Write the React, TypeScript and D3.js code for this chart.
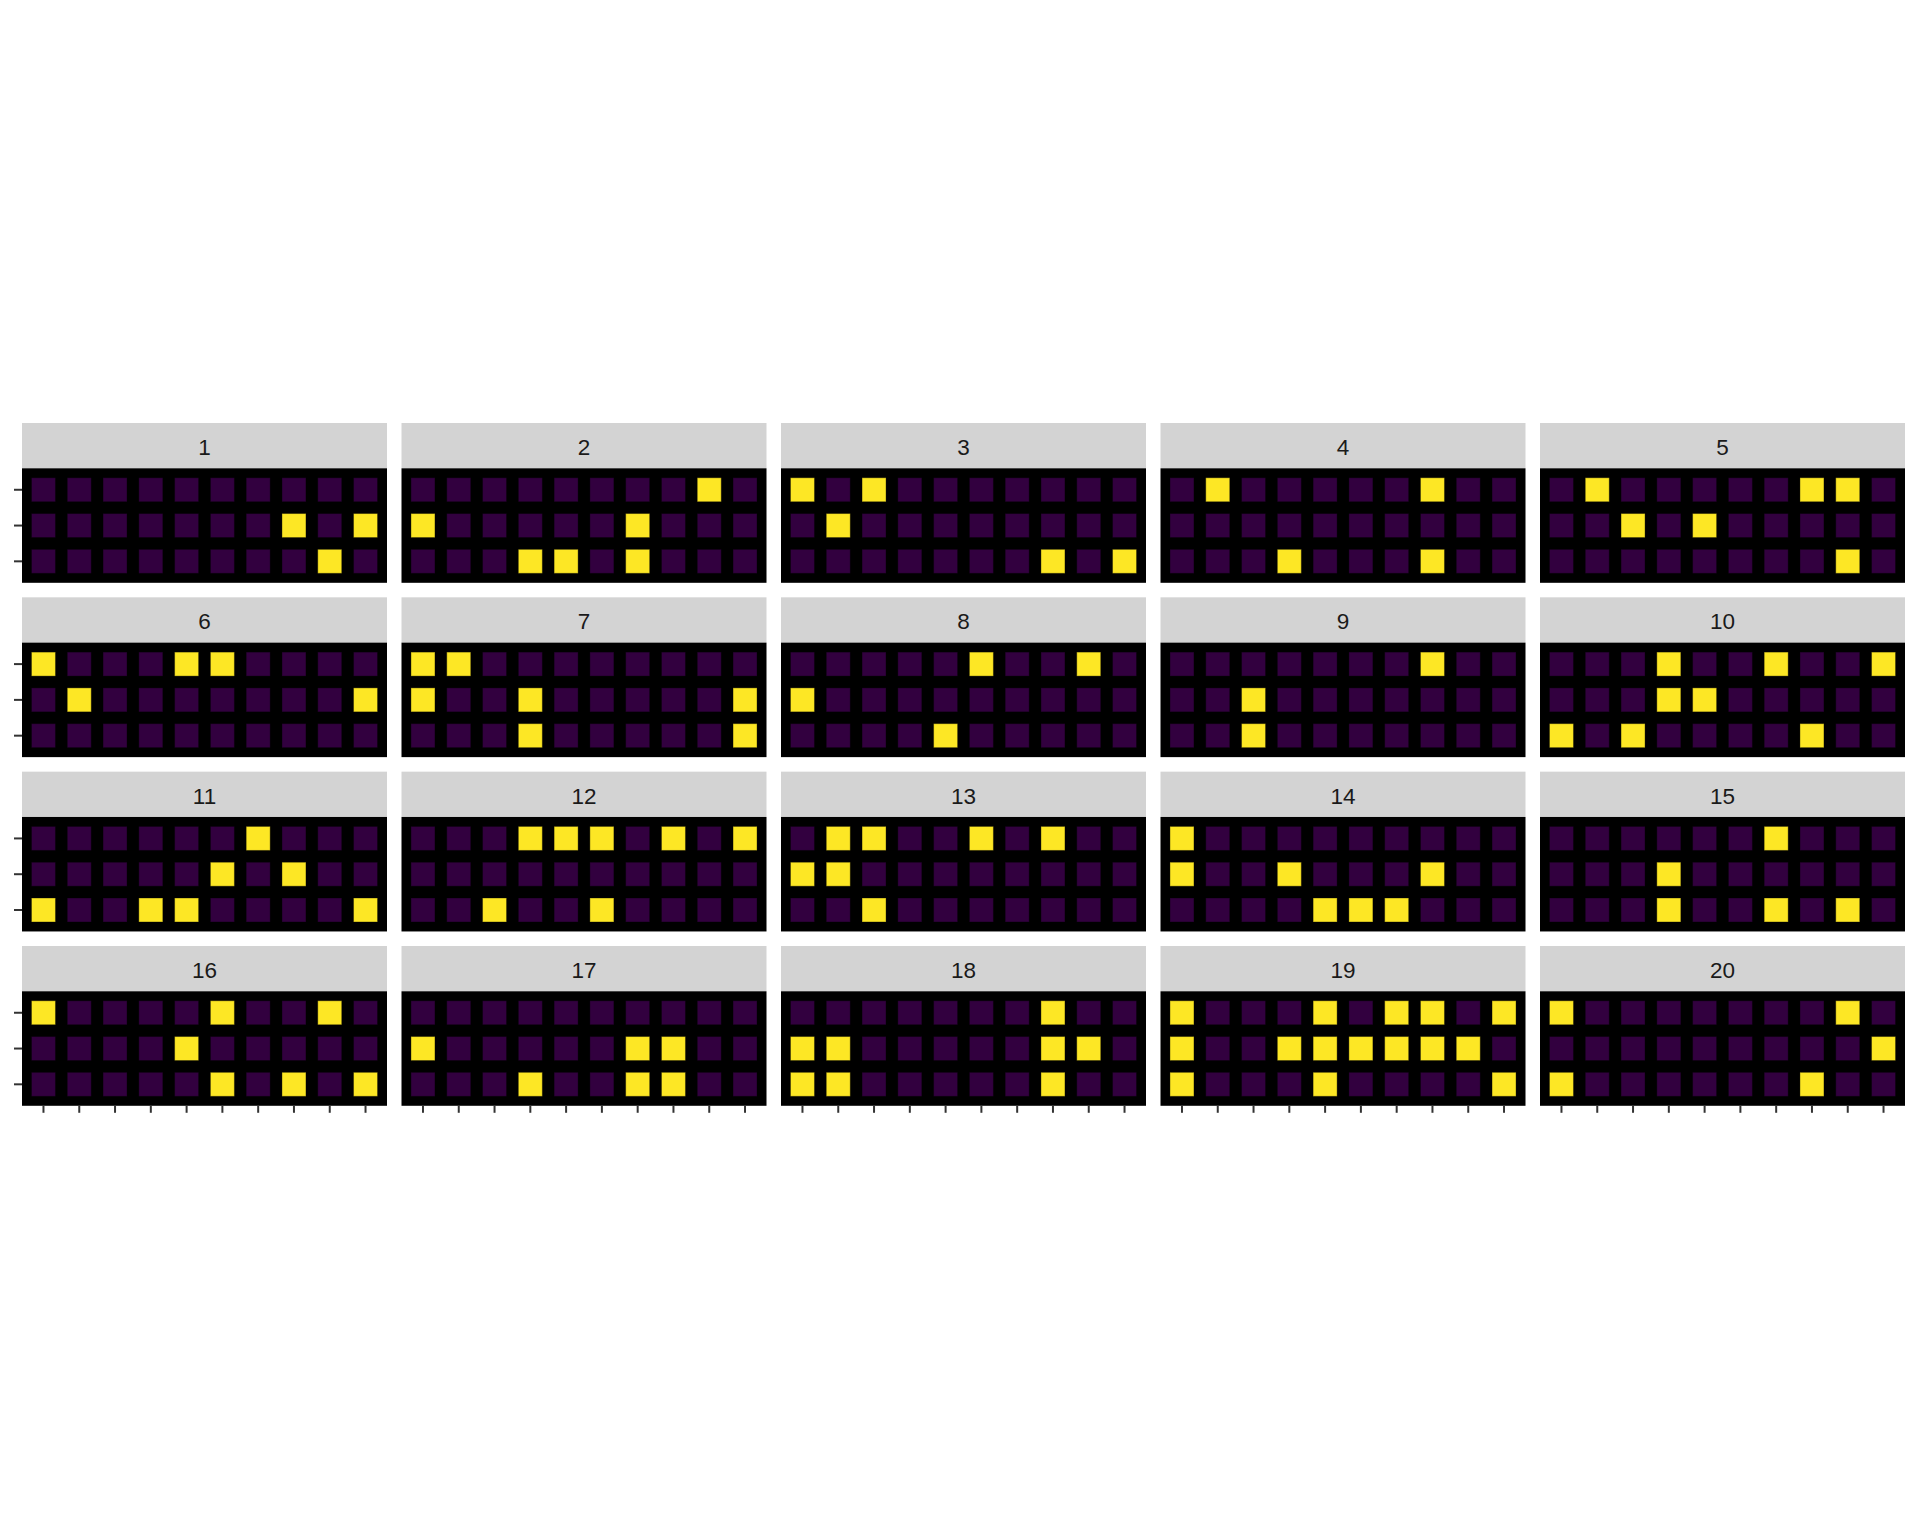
import React from 'react';
import * as d3 from 'd3';

// facet labels
const panelIds = d3.range(1, 21).map(String);
const columns = d3.range(1, 11);
const rows = [1, 2, 3];

// for each panel, which columns are "on" in row 1, 2, 3
const onCells: number[][][] = [
  [[], [8, 10], [9]],
  [[9], [1, 7], [4, 5, 7]],
  [[1, 3], [2], [8, 10]],
  [[2, 8], [], [4, 8]],
  [[2, 8, 9], [3, 5], [9]],
  [[1, 5, 6], [2, 10], []],
  [[1, 2], [1, 4, 10], [4, 10]],
  [[6, 9], [1], [5]],
  [[8], [3], [3]],
  [[4, 7, 10], [4, 5], [1, 3, 8]],
  [[7], [6, 8], [1, 4, 5, 10]],
  [[4, 5, 6, 8, 10], [], [3, 6]],
  [[2, 3, 6, 8], [1, 2], [3]],
  [[1], [1, 4, 8], [5, 6, 7]],
  [[7], [4], [4, 7, 9]],
  [[1, 6, 9], [5], [6, 8, 10]],
  [[], [1, 7, 8], [4, 7, 8]],
  [[8], [1, 2, 8, 9], [1, 2, 8]],
  [[1, 5, 7, 8, 10], [1, 4, 5, 6, 7, 8, 9], [1, 5, 10]],
  [[1, 9], [10], [1, 8]],
];

const nCol = 5;
const left = 22;
const top = 423;
const colStep = 379.5;
const rowStep = 174.33;
const stripH = 45.3;
const panelW = 365;
const panelH = 114.5;
const tileSize = 24;

const x = d3.scaleLinear().domain([0.4, 10.6]).range([0, panelW]);
const y = d3.scaleLinear().domain([0.4, 3.6]).range([0, panelH]);
const fill = d3.scaleOrdinal<number, string>().domain([0, 1]).range(['#32003F', '#FDE725']);

const Panel: React.FC<{ idx: number }> = ({ idx }) => {
  const c = idx % nCol;
  const r = Math.floor(idx / nCol);
  const px = left + c * colStep;
  const py = top + r * rowStep;
  const cells = onCells[idx];
  return (
    <g transform={`translate(${px},${py})`}>
      <rect width={panelW} height={stripH} fill="#D3D3D3" />
      <text
        x={panelW / 2}
        y={32}
        textAnchor="middle"
        fontSize={22.5}
        fill="#1A1A1A"
        fontFamily="'Liberation Sans', Arial, sans-serif"
      >
        {panelIds[idx]}
      </text>
      <g transform={`translate(0,${stripH})`}>
        <rect width={panelW} height={panelH} fill="#000" />
        {rows.map((row, ri) =>
          columns.map(col => {
            const on = cells[ri].includes(col) ? 1 : 0;
            return (
              <rect
                key={`${row}-${col}`}
                x={x(col) - tileSize / 2}
                y={y(row) - tileSize / 2}
                width={tileSize}
                height={tileSize}
                fill={fill(on)}
                stroke="rgba(0,0,0,0.35)"
                strokeWidth={1}
              />
            );
          })
        )}
        {c === 0 &&
          rows.map(row => (
            <line key={`yt${row}`} x1={-8} x2={0} y1={y(row)} y2={y(row)} stroke="#333" strokeWidth={2} />
          ))}
        {r === 3 &&
          columns.map(col => (
            <line key={`xt${col}`} x1={x(col)} x2={x(col)} y1={panelH} y2={panelH + 7} stroke="#333" strokeWidth={2} />
          ))}
      </g>
    </g>
  );
};

const App: React.FC = () => (
  <svg width={1920} height={1536} style={{ position: 'absolute', left: 0, top: 0, background: '#fff' }}>
    <rect width={1920} height={1536} fill="#fff" />
    {panelIds.map((_, i) => (
      <Panel key={i} idx={i} />
    ))}
  </svg>
);

export default App;
